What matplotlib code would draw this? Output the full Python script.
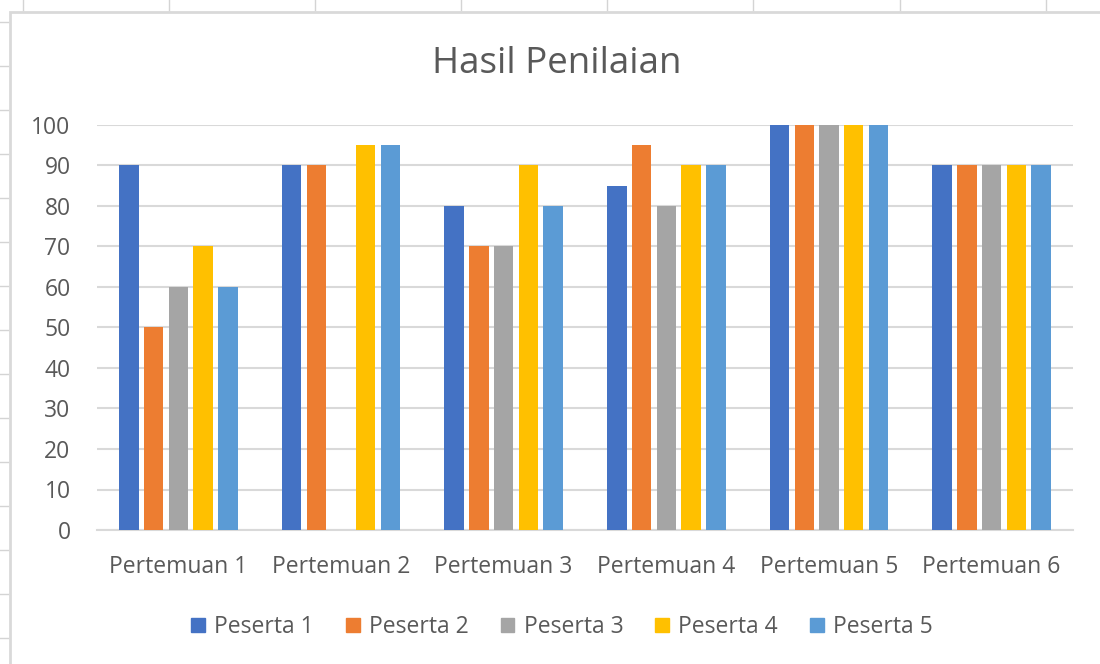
import matplotlib.pyplot as plt
import numpy as np
from matplotlib.lines import Line2D
from matplotlib.patches import Rectangle

plt.rcParams['font.family'] = ['Open Sans', 'DejaVu Sans']

categories = ["Pertemuan 1", "Pertemuan 2", "Pertemuan 3",
              "Pertemuan 4", "Pertemuan 5", "Pertemuan 6"]
series = ["Peserta 1", "Peserta 2", "Peserta 3", "Peserta 4", "Peserta 5"]
peserta1 = [90, 90, 80, 85, 100, 90]
peserta2 = [50, 90, 70, 95, 100, 90]
peserta3 = [60, 0, 70, 80, 100, 90]
peserta4 = [70, 95, 90, 90, 100, 90]
peserta5 = [60, 95, 80, 90, 100, 90]
values = [peserta1, peserta2, peserta3, peserta4, peserta5]
colors = ["#4472C4", "#ED7D31", "#A5A5A5", "#FFC000", "#5B9BD5"]

W, H = 1100, 664
fig = plt.figure(figsize=(W / 100, H / 100), dpi=100)
fig.patch.set_facecolor("white")

# spreadsheet background: column/row tick marks and chart border
grid_c = "#d4d4d4"
for xc in [23, 169, 315, 461, 607, 753, 900, 1046]:
    fig.add_artist(Line2D([xc / W, xc / W], [1, 1 - 10 / H], color=grid_c, lw=1))
for yr in range(22, H, 44):
    fig.add_artist(Line2D([0, 8 / W], [1 - yr / H, 1 - yr / H], color=grid_c, lw=1))
fig.add_artist(Rectangle((10 / W, -0.1), 1.2, 1 - 12 / H + 0.1, transform=fig.transFigure,
                         fill=False, edgecolor="#d9d9d9", lw=2))

ax = fig.add_axes([97 / W, 134 / H, 976 / W, 405 / H])
x = np.arange(len(categories))
step = 0.152
bw = 0.12
for i, (name, vals, col) in enumerate(zip(series, values, colors)):
    ax.bar(x + (i - 2) * step, vals, bw, color=col, label=name, zorder=3)

ax.set_xlim(-0.5, len(categories) - 0.5)
ax.set_ylim(0, 100)
ax.set_yticks(np.arange(0, 101, 10))
ax.set_xticks(x)
ax.set_xticklabels(categories)
ax.grid(axis="y", color="#d9d9d9", lw=1.5, zorder=0)
for s in ["top", "right", "left"]:
    ax.spines[s].set_visible(False)
ax.spines["bottom"].set_color("#d9d9d9")
ax.spines["bottom"].set_linewidth(1.5)
ax.tick_params(axis="both", length=0, labelsize=16.5, colors="#595959")
ax.tick_params(axis="y", pad=19)
ax.tick_params(axis="x", pad=18)

fig.text(557 / W, 1 - 64 / H, "Hasil Penilaian", ha="center", va="center",
         fontsize=26.5, color="#595959")

handles = [Rectangle((0, 0), 1, 1, color=c) for c in colors]
fig.legend(handles, series, loc="center", bbox_to_anchor=(562 / W, 1 - 627 / H),
           ncol=5, frameon=False, fontsize=16.5, labelcolor="#595959",
           handlelength=0.6, handleheight=0.6, handletextpad=0.4, columnspacing=1.4)

fig.savefig("out.png", dpi=100, facecolor="white")
